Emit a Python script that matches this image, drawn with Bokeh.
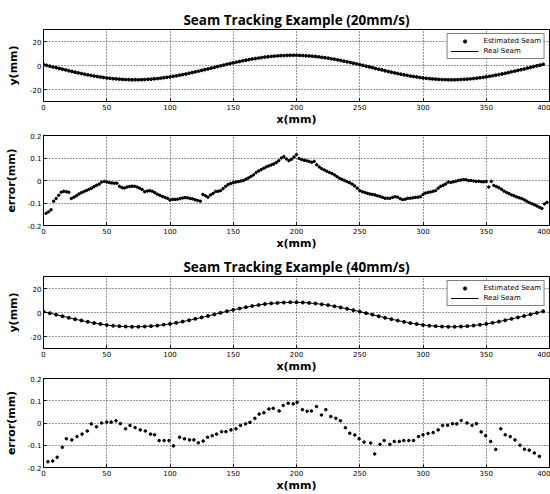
from bokeh.plotting import figure
from bokeh.models import (Range1d, FixedTicker, CustomJSTickFormatter, Legend, LegendItem)
from bokeh.layouts import column
from bokeh.embed import file_html
from bokeh.resources import INLINE

# ---------------- data ----------------
x_ticks = [0, 50, 100, 150, 200, 250, 300, 350, 400]
seam_y_ticks = [-20, 0, 20]
err_y_ticks = [-0.2, -0.1, 0, 0.1, 0.2]

seam_x = [0, 5, 10, 15, 20, 25, 30, 35, 40, 45,
          50, 55, 60, 65, 70, 75, 80, 85, 90, 95,
          100, 105, 110, 115, 120, 125, 130, 135, 140, 145,
          150, 155, 160, 165, 170, 175, 180, 185, 190, 195,
          200, 205, 210, 215, 220, 225, 230, 235, 240, 245,
          250, 255, 260, 265, 270, 275, 280, 285, 290, 295,
          300, 305, 310, 315, 320, 325, 330, 335, 340, 345,
          350, 355, 360, 365, 370, 375, 380, 385, 390, 395]
real_seam = [0.71, -0.55, -1.83, -3.11, -4.36, -5.57, -6.73, -7.80, -8.78, -9.64,
             -10.38, -10.98, -11.44, -11.74, -11.89, -11.87, -11.69, -11.36, -10.87, -10.24,
             -9.48, -8.59, -7.59, -6.50, -5.34, -4.11, -2.85, -1.57, -0.29, 0.96,
             2.17, 3.33, 4.40, 5.38, 6.24, 6.98, 7.58, 8.04, 8.34, 8.49,
             8.47, 8.29, 7.96, 7.47, 6.84, 6.08, 5.19, 4.19, 3.10, 1.94,
             0.71, -0.55, -1.83, -3.11, -4.36, -5.57, -6.73, -7.80, -8.78, -9.64,
             -10.38, -10.98, -11.44, -11.74, -11.89, -11.87, -11.69, -11.36, -10.87, -10.24,
             -9.48, -8.59, -7.59, -6.50, -5.34, -4.11, -2.85, -1.57, -0.29, 0.96]

est20_x = [0, 2.5, 5, 7.5, 10, 12.5, 15, 17.5, 20, 22.5,
           25, 27.5, 30, 32.5, 35, 37.5, 40, 42.5, 45, 47.5,
           50, 52.5, 55, 57.5, 60, 62.5, 65, 67.5, 70, 72.5,
           75, 77.5, 80, 82.5, 85, 87.5, 90, 92.5, 95, 97.5,
           100, 102.5, 105, 107.5, 110, 112.5, 115, 117.5, 120, 122.5,
           125, 127.5, 130, 132.5, 135, 137.5, 140, 142.5, 145, 147.5,
           150, 152.5, 155, 157.5, 160, 162.5, 165, 167.5, 170, 172.5,
           175, 177.5, 180, 182.5, 185, 187.5, 190, 192.5, 195, 197.5,
           200, 202.5, 205, 207.5, 210, 212.5, 215, 217.5, 220, 222.5,
           225, 227.5, 230, 232.5, 235, 237.5, 240, 242.5, 245, 247.5,
           250, 252.5, 255, 257.5, 260, 262.5, 265, 267.5, 270, 272.5,
           275, 277.5, 280, 282.5, 285, 287.5, 290, 292.5, 295, 297.5,
           300, 302.5, 305, 307.5, 310, 312.5, 315, 317.5, 320, 322.5,
           325, 327.5, 330, 332.5, 335, 337.5, 340, 342.5, 345, 347.5,
           350, 352.5, 355, 357.5, 360, 362.5, 365, 367.5, 370, 372.5,
           375, 377.5, 380, 382.5, 385, 387.5, 390, 392.5, 395]
est20_y = [0.7, 0.1, -0.6, -1.2, -1.8, -2.5, -3.1, -3.7, -4.4, -5.0,
           -5.6, -6.2, -6.7, -7.3, -7.8, -8.3, -8.8, -9.2, -9.6, -10.0,
           -10.4, -10.7, -11.0, -11.2, -11.4, -11.6, -11.7, -11.8, -11.9, -11.9,
           -11.9, -11.8, -11.7, -11.5, -11.4, -11.1, -10.9, -10.6, -10.2, -9.9,
           -9.5, -9.0, -8.6, -8.1, -7.6, -7.1, -6.5, -5.9, -5.3, -4.7,
           -4.1, -3.5, -2.9, -2.2, -1.6, -0.9, -0.3, 0.3, 1.0, 1.6,
           2.2, 2.8, 3.3, 3.9, 4.4, 4.9, 5.4, 5.8, 6.2, 6.6,
           7.0, 7.3, 7.6, 7.8, 8.0, 8.2, 8.3, 8.4, 8.5, 8.5,
           8.5, 8.4, 8.3, 8.1, 8.0, 7.7, 7.5, 7.2, 6.8, 6.5,
           6.1, 5.6, 5.2, 4.7, 4.2, 3.6, 3.1, 2.5, 1.9, 1.3,
           0.7, 0.1, -0.6, -1.2, -1.8, -2.5, -3.1, -3.7, -4.4, -5.0,
           -5.6, -6.2, -6.7, -7.3, -7.8, -8.3, -8.8, -9.2, -9.6, -10.0,
           -10.4, -10.7, -11.0, -11.2, -11.4, -11.6, -11.7, -11.8, -11.9, -11.9,
           -11.9, -11.8, -11.7, -11.5, -11.4, -11.1, -10.9, -10.6, -10.2, -9.9,
           -9.5, -9.0, -8.6, -8.1, -7.6, -7.1, -6.5, -5.9, -5.3, -4.7,
           -4.1, -3.5, -2.9, -2.2, -1.6, -0.9, -0.3, 0.3, 1.0]

est40_x = seam_x
est40_y = [0.7, -0.6, -1.8, -3.1, -4.4, -5.6, -6.7, -7.8, -8.8, -9.6,
           -10.4, -11.0, -11.4, -11.7, -11.9, -11.9, -11.7, -11.4, -10.9, -10.2,
           -9.5, -8.6, -7.6, -6.5, -5.3, -4.1, -2.9, -1.6, -0.3, 1.0,
           2.2, 3.3, 4.4, 5.4, 6.2, 7.0, 7.6, 8.0, 8.3, 8.5,
           8.5, 8.3, 8.0, 7.5, 6.8, 6.1, 5.2, 4.2, 3.1, 1.9,
           0.7, -0.6, -1.8, -3.1, -4.4, -5.6, -6.7, -7.8, -8.8, -9.6,
           -10.4, -11.0, -11.4, -11.7, -11.9, -11.9, -11.7, -11.4, -10.9, -10.2,
           -9.5, -8.6, -7.6, -6.5, -5.3, -4.1, -2.9, -1.6, -0.3, 1.0]

err20_x = [2, 4, 6, 8, 10, 12, 14, 16, 18, 20,
           22, 24, 26, 28, 30, 32, 34, 36, 38, 40,
           42, 44, 46, 48, 50, 52, 54, 56, 58, 60,
           62, 64, 66, 68, 70, 72, 74, 76, 78, 80,
           82, 84, 86, 88, 90, 92, 94, 96, 98, 100,
           102, 104, 106, 108, 110, 112, 114, 116, 118, 120,
           122, 124, 126, 128, 130, 132, 134, 136, 138, 140,
           142, 144, 146, 148, 150, 152, 154, 156, 158, 160,
           162, 164, 166, 168, 170, 172, 174, 176, 178, 180,
           182, 184, 186, 188, 190, 192, 194, 196, 198, 200,
           202, 204, 206, 208, 210, 212, 214, 216, 218, 220,
           222, 224, 226, 228, 230, 232, 234, 236, 238, 240,
           242, 244, 246, 248, 250, 252, 254, 256, 258, 260,
           262, 264, 266, 268, 270, 272, 274, 276, 278, 280,
           282, 284, 286, 288, 290, 292, 294, 296, 298, 300,
           302, 304, 306, 308, 310, 312, 314, 316, 318, 320,
           322, 324, 326, 328, 330, 332, 334, 336, 338, 340,
           342, 344, 346, 348, 350, 352, 354, 356, 358, 360,
           362, 364, 366, 368, 370, 372, 374, 376, 378, 380,
           382, 384, 386, 388, 390, 392, 394, 396, 398]
err20_y = [-0.146, -0.139, -0.130, -0.092, -0.080, -0.066, -0.052, -0.048, -0.050, -0.052,
           -0.080, -0.074, -0.068, -0.060, -0.054, -0.049, -0.044, -0.039, -0.034, -0.027,
           -0.021, -0.016, -0.007, -0.004, -0.007, -0.009, -0.011, -0.012, -0.012, -0.026,
           -0.032, -0.033, -0.029, -0.027, -0.025, -0.026, -0.029, -0.034, -0.040, -0.050,
           -0.047, -0.045, -0.048, -0.054, -0.061, -0.066, -0.071, -0.075, -0.079, -0.087,
           -0.084, -0.084, -0.083, -0.080, -0.078, -0.076, -0.077, -0.080, -0.082, -0.086,
           -0.089, -0.092, -0.062, -0.068, -0.074, -0.064, -0.058, -0.049, -0.048, -0.045,
           -0.036, -0.026, -0.018, -0.013, -0.010, -0.007, -0.005, -0.002, 0.000, 0.006,
           0.011, 0.018, 0.025, 0.035, 0.042, 0.048, 0.054, 0.060, 0.065, 0.069,
           0.073, 0.080, 0.088, 0.100, 0.106, 0.096, 0.088, 0.094, 0.104, 0.115,
           0.098, 0.093, 0.090, 0.088, 0.085, 0.081, 0.085, 0.070, 0.060, 0.052,
           0.047, 0.041, 0.036, 0.031, 0.025, 0.017, 0.010, 0.005, 0.000, -0.005,
           -0.010, -0.016, -0.024, -0.034, -0.045, -0.050, -0.053, -0.057, -0.060, -0.062,
           -0.064, -0.068, -0.071, -0.075, -0.079, -0.079, -0.079, -0.075, -0.072, -0.074,
           -0.081, -0.085, -0.083, -0.079, -0.079, -0.077, -0.075, -0.074, -0.072, -0.062,
           -0.056, -0.053, -0.051, -0.048, -0.045, -0.034, -0.026, -0.021, -0.015, -0.007,
           -0.009, -0.006, -0.003, 0.000, 0.002, 0.004, 0.003, 0.000, 0.000, -0.002,
           -0.004, -0.003, -0.005, -0.006, -0.004, -0.029, -0.004, -0.022, -0.027, -0.032,
           -0.039, -0.047, -0.053, -0.058, -0.064, -0.068, -0.073, -0.077, -0.080, -0.086,
           -0.092, -0.098, -0.103, -0.108, -0.113, -0.119, -0.124, -0.104, -0.097]

err40_x = [3.5, 7.3, 10.8, 14.9, 18.1, 22.4, 26.5, 30.5, 34.6, 37.8,
           41.9, 45.9, 50.0, 53.5, 57.3, 60.8, 64.9, 68.4, 72.4, 76.5,
           80.5, 84.6, 87.8, 91.4, 95.4, 99.2, 102.7, 107.6, 111.4, 115.4,
           118.9, 122.4, 126.2, 129.7, 133.4, 136.8, 140.8, 144.2, 148.2, 152.1,
           155.8, 159.7, 163.2, 167.1, 170.5, 174.2, 178.2, 181.6, 186.3, 189.5,
           193.4, 197.4, 200.5, 204.7, 208.4, 211.8, 215.8, 219.7, 223.2, 227.1,
           231.1, 234.7, 238.7, 242.1, 246.1, 249.5, 253.4, 258.6, 261.8, 266.0,
           269.3, 273.8, 277.3, 281.3, 284.8, 288.8, 292.5, 296.5, 300.0, 304.0,
           308.0, 312.0, 315.5, 319.5, 323.3, 326.7, 330.2, 334.8, 338.8, 342.2,
           346.0, 349.5, 353.5, 357.5, 361.5, 365.0, 369.0, 372.7, 376.7, 380.2,
           384.0, 388.0, 392.0]
err40_y = [-0.174, -0.171, -0.154, -0.109, -0.071, -0.076, -0.061, -0.050, -0.036, -0.004,
           -0.017, 0.000, 0.004, 0.004, 0.010, -0.003, -0.026, -0.011, -0.021, -0.031,
           -0.036, -0.050, -0.053, -0.079, -0.079, -0.079, -0.103, -0.064, -0.071, -0.076,
           -0.076, -0.089, -0.081, -0.064, -0.057, -0.050, -0.039, -0.039, -0.031, -0.026,
           -0.011, -0.004, 0.003, 0.021, 0.040, 0.046, 0.063, 0.066, 0.054, 0.079,
           0.089, 0.086, 0.093, 0.060, 0.053, 0.054, 0.074, 0.036, 0.060, 0.029,
           0.021, 0.010, -0.021, -0.046, -0.054, -0.071, -0.086, -0.090, -0.139, -0.096,
           -0.079, -0.096, -0.083, -0.083, -0.079, -0.079, -0.079, -0.061, -0.053, -0.047,
           -0.043, -0.031, -0.011, -0.010, -0.003, -0.004, 0.011, 0.000, -0.011, -0.003,
           -0.040, -0.057, -0.083, -0.119, -0.026, -0.053, -0.061, -0.076, -0.100, -0.118,
           -0.122, -0.135, -0.150]

titles = ["Seam Tracking Example (20mm/s)", "Seam Tracking Example (40mm/s)"]
legend_labels = ["Estimated Seam", "Real Seam"]

# ---------------- styling helpers ----------------
TICK_FONT = "DejaVu Sans"
LABEL_FONT = "DejaVu Sans"


def make_fig(height, top, bottom, yrange, yticks, ylabel, title=None):
    p = figure(width=550, height=height, x_range=Range1d(0, 400),
               y_range=Range1d(*yrange), output_backend="svg",
               toolbar_location=None, title=title,
               min_border_left=43, min_border_right=1,
               min_border_top=top, min_border_bottom=bottom,
               background_fill_color="white", border_fill_color="white",
               outline_line_color="black", outline_line_width=1)
    if title:
        p.title.align = "center"
        p.title.text_font = "Open Sans"
        p.title.text_font_size = "13.5px"
        p.title.text_font_style = "bold"
        p.title.text_color = "black"
        p.title.standoff = 1
    p.xaxis.ticker = FixedTicker(ticks=x_ticks)
    p.yaxis.ticker = FixedTicker(ticks=yticks)
    p.yaxis.formatter = CustomJSTickFormatter(code="return String(tick);")
    for ax in (p.xaxis[0], p.yaxis[0]):
        ax.major_tick_in = 3
        ax.major_tick_out = 0
        ax.minor_tick_line_color = None
        ax.axis_line_color = "black"
        ax.major_tick_line_color = "black"
        ax.major_label_text_font = TICK_FONT
        ax.major_label_text_font_size = "7px"
        ax.major_label_text_color = "black"
        ax.major_label_standoff = 2
        ax.axis_label_text_font = LABEL_FONT
        ax.axis_label_text_font_size = "11px"
        ax.axis_label_text_font_style = "bold"
        ax.axis_label_text_color = "black"
        ax.axis_label_standoff = 0
    p.xaxis.axis_label = "x(mm)"
    p.yaxis.axis_label = ylabel
    p.yaxis.axis_label_standoff = 7
    p.xgrid.ticker = FixedTicker(ticks=x_ticks)
    p.ygrid.ticker = FixedTicker(ticks=yticks)
    for g in (p.xgrid[0], p.ygrid[0]):
        g.grid_line_color = "black"
        g.grid_line_dash = "1 2"
        g.grid_line_width = 1
        g.grid_line_alpha = 0.8
    return p


def add_legend(p, dots, line):
    leg = Legend(items=[LegendItem(label=legend_labels[0], renderers=[dots]),
                        LegendItem(label=legend_labels[1], renderers=[line])],
                 location="top_right")
    leg.margin = 4
    leg.padding = 3
    leg.spacing = 2
    leg.glyph_width = 28
    leg.glyph_height = 8
    leg.label_height = 8
    leg.label_standoff = 5
    leg.label_text_font = TICK_FONT
    leg.label_text_font_size = "7px"
    leg.label_text_color = "black"
    leg.border_line_color = "black"
    leg.border_line_width = 1
    leg.background_fill_color = "white"
    leg.background_fill_alpha = 1
    p.add_layout(leg)


# ---- plot 1 ----
p1 = make_fig(128, 29, 23, (-30, 30), seam_y_ticks, "y(mm)", titles[0])
l1 = p1.line(seam_x, real_seam, line_color="black", line_width=1)
d1 = p1.scatter(est20_x, est20_y, marker="circle", size=2.8, fill_color="black",
                line_color="black")
add_legend(p1, d1, l1)

# ---- plot 2 ----
p2 = make_fig(124, 7, 24, (-0.2, 0.2), err_y_ticks, "error(mm)")
p2.scatter(err20_x, err20_y, marker="circle", size=2.5, fill_color="black",
           line_color="black")

# ---- plot 3 ----
p3 = make_fig(123, 24, 23, (-30, 30), seam_y_ticks, "y(mm)", titles[1])
l3 = p3.line(seam_x, real_seam, line_color="black", line_width=1)
d3 = p3.scatter(est40_x, est40_y, marker="circle", size=3, fill_color="black",
                line_color="black")
add_legend(p3, d3, l3)

# ---- plot 4 ----
p4 = make_fig(119, 3, 22, (-0.2, 0.2), err_y_ticks, "error(mm)")
p4.scatter(err40_x, err40_y, marker="circle", size=2.6, fill_color="black",
           line_color="black")

layout = column(p1, p2, p3, p4, spacing=0)

open("out.html", "w").write(file_html(layout, INLINE))
